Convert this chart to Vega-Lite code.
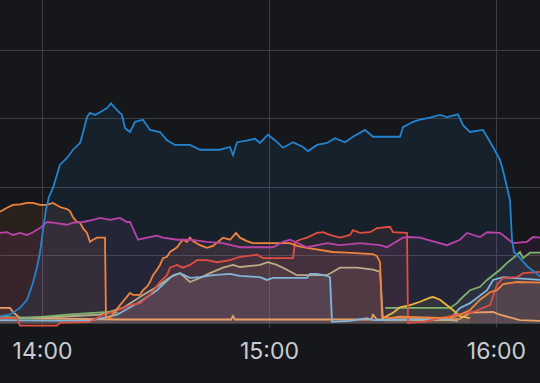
{
"$schema":"https://vega.github.io/schema/vega-lite/v6.json",
"width":540,"height":327,
"autosize":{"type":"none"},
"padding":{"left":0,"top":0,"right":0,"bottom":56},
"background":"#15171a",
"data":{"format":{"parse":{"t":"date:'%H:%M:%S'"}},"values":[
{"s":"peach","t":"13:48:54","v":22},{"s":"peach","t":"13:51:32","v":22},{"s":"peach","t":"13:52:20","v":16},{"s":"peach","t":"13:54:11","v":7},{"s":"peach","t":"14:20:00","v":5},{"s":"peach","t":"14:50:00","v":5},{"s":"peach","t":"14:50:29","v":10},{"s":"peach","t":"14:51:00","v":5},{"s":"peach","t":"15:27:00","v":5},{"s":"peach","t":"15:27:30","v":12},{"s":"peach","t":"15:28:30","v":5},{"s":"peach","t":"15:50:29","v":6},{"s":"peach","t":"15:53:08","v":15},{"s":"peach","t":"15:59:13","v":16},{"s":"peach","t":"16:01:04","v":12},{"s":"peach","t":"16:06:21","v":4},{"s":"peach","t":"16:11:38","v":3},
{"s":"tan","t":"13:48:54","v":7},{"s":"tan","t":"14:04:45","v":9},{"s":"tan","t":"14:15:20","v":12},{"s":"tan","t":"14:21:25","v":22},{"s":"tan","t":"14:26:42","v":41},{"s":"tan","t":"14:30:24","v":53},{"s":"tan","t":"14:33:50","v":67},{"s":"tan","t":"14:36:29","v":73},{"s":"tan","t":"14:39:07","v":60},{"s":"tan","t":"14:41:46","v":66},{"s":"tan","t":"14:44:24","v":73},{"s":"tan","t":"14:47:51","v":81},{"s":"tan","t":"14:50:29","v":85},{"s":"tan","t":"14:52:20","v":82},{"s":"tan","t":"14:57:37","v":85},{"s":"tan","t":"14:59:44","v":89},{"s":"tan","t":"15:02:07","v":85},{"s":"tan","t":"15:04:46","v":78},{"s":"tan","t":"15:07:24","v":70},{"s":"tan","t":"15:15:20","v":70},{"s":"tan","t":"15:16:55","v":75},{"s":"tan","t":"15:18:46","v":81},{"s":"tan","t":"15:23:16","v":81},{"s":"tan","t":"15:27:30","v":78},{"s":"tan","t":"15:29:21","v":75},{"s":"tan","t":"15:30:08","v":4},{"s":"tan","t":"15:47:51","v":4},{"s":"tan","t":"15:50:00","v":3},
{"s":"lightblue","t":"13:48:54","v":4},{"s":"lightblue","t":"14:12:41","v":3},{"s":"lightblue","t":"14:19:50","v":12},{"s":"lightblue","t":"14:25:54","v":31},{"s":"lightblue","t":"14:30:24","v":48},{"s":"lightblue","t":"14:34:38","v":70},{"s":"lightblue","t":"14:36:29","v":73},{"s":"lightblue","t":"14:39:07","v":66},{"s":"lightblue","t":"14:41:46","v":67},{"s":"lightblue","t":"14:45:12","v":70},{"s":"lightblue","t":"14:49:42","v":72},{"s":"lightblue","t":"14:52:20","v":69},{"s":"lightblue","t":"14:57:37","v":67},{"s":"lightblue","t":"14:59:28","v":63},{"s":"lightblue","t":"15:01:04","v":66},{"s":"lightblue","t":"15:10:03","v":66},{"s":"lightblue","t":"15:10:50","v":72},{"s":"lightblue","t":"15:12:42","v":72},{"s":"lightblue","t":"15:15:20","v":69},{"s":"lightblue","t":"15:16:08","v":67},{"s":"lightblue","t":"15:16:39","v":1.5},{"s":"lightblue","t":"15:21:25","v":3},{"s":"lightblue","t":"15:25:55","v":7},{"s":"lightblue","t":"15:27:30","v":4},{"s":"lightblue","t":"15:47:51","v":6},{"s":"lightblue","t":"15:50:29","v":22},{"s":"lightblue","t":"15:53:08","v":29},{"s":"lightblue","t":"15:57:38","v":48},{"s":"lightblue","t":"15:59:13","v":63},{"s":"lightblue","t":"16:01:51","v":67},{"s":"lightblue","t":"16:11:38","v":63},
{"s":"greenA","t":"13:48:54","v":9},{"s":"greenA","t":"13:56:02","v":7},{"s":"greenA","t":"14:06:37","v":12},{"s":"greenA","t":"14:14:32","v":15},{"s":"greenA","t":"14:17:58","v":16},{"s":"greenA","t":"14:20:00","v":15},
{"s":"greenB","t":"15:30:40","v":22},{"s":"greenB","t":"15:47:51","v":22},{"s":"greenB","t":"15:49:42","v":29},{"s":"greenB","t":"15:50:29","v":34},{"s":"greenB","t":"15:53:08","v":48},{"s":"greenB","t":"15:55:47","v":53},{"s":"greenB","t":"15:57:38","v":63},{"s":"greenB","t":"16:01:04","v":78},{"s":"greenB","t":"16:02:55","v":88},{"s":"greenB","t":"16:04:30","v":95},{"s":"greenB","t":"16:06:21","v":104},{"s":"greenB","t":"16:07:09","v":95},{"s":"greenB","t":"16:09:00","v":103},{"s":"greenB","t":"16:11:38","v":103},
{"s":"yellow","t":"15:30:08","v":7},{"s":"yellow","t":"15:32:47","v":15},{"s":"yellow","t":"15:34:38","v":23},{"s":"yellow","t":"15:37:16","v":26},{"s":"yellow","t":"15:39:55","v":31},{"s":"yellow","t":"15:42:34","v":37},{"s":"yellow","t":"15:43:21","v":38},{"s":"yellow","t":"15:45:12","v":34},{"s":"yellow","t":"15:47:03","v":26},{"s":"yellow","t":"15:48:38","v":19},{"s":"yellow","t":"15:50:29","v":10},{"s":"yellow","t":"15:53:08","v":7},
{"s":"red","t":"13:48:54","v":7},{"s":"red","t":"13:53:24","v":7},{"s":"red","t":"13:54:11","v":-4},{"s":"red","t":"14:03:58","v":-4},{"s":"red","t":"14:04:45","v":0},{"s":"red","t":"14:12:41","v":1.5},{"s":"red","t":"14:16:07","v":12},{"s":"red","t":"14:18:46","v":16},{"s":"red","t":"14:23:16","v":26},{"s":"red","t":"14:25:54","v":29},{"s":"red","t":"14:28:33","v":41},{"s":"red","t":"14:31:11","v":60},{"s":"red","t":"14:33:02","v":70},{"s":"red","t":"14:33:50","v":81},{"s":"red","t":"14:35:41","v":85},{"s":"red","t":"14:37:16","v":81},{"s":"red","t":"14:39:07","v":85},{"s":"red","t":"14:40:58","v":92},{"s":"red","t":"14:43:37","v":92},{"s":"red","t":"14:46:16","v":89},{"s":"red","t":"14:49:42","v":92},{"s":"red","t":"14:52:20","v":97},{"s":"red","t":"14:56:50","v":100},{"s":"red","t":"14:58:25","v":95},{"s":"red","t":"15:06:21","v":95},{"s":"red","t":"15:06:52","v":119},{"s":"red","t":"15:08:12","v":122},{"s":"red","t":"15:10:03","v":125},{"s":"red","t":"15:12:42","v":132},{"s":"red","t":"15:14:17","v":133},{"s":"red","t":"15:16:08","v":129},{"s":"red","t":"15:18:46","v":125},{"s":"red","t":"15:21:25","v":129},{"s":"red","t":"15:22:12","v":136},{"s":"red","t":"15:24:03","v":132},{"s":"red","t":"15:26:42","v":133},{"s":"red","t":"15:28:33","v":139},{"s":"red","t":"15:31:59","v":141},{"s":"red","t":"15:32:47","v":133},{"s":"red","t":"15:36:29","v":132},{"s":"red","t":"15:36:45","v":0},{"s":"red","t":"15:40:43","v":1.5},{"s":"red","t":"15:49:42","v":12},{"s":"red","t":"15:53:56","v":16},{"s":"red","t":"15:58:25","v":26},{"s":"red","t":"16:00:16","v":56},{"s":"red","t":"16:01:51","v":66},{"s":"red","t":"16:05:34","v":67},{"s":"red","t":"16:07:09","v":73},{"s":"red","t":"16:11:38","v":75},
{"s":"orange","t":"13:48:54","v":163},{"s":"orange","t":"13:50:45","v":169},{"s":"orange","t":"13:52:20","v":173},{"s":"orange","t":"13:54:11","v":174},{"s":"orange","t":"13:56:02","v":176},{"s":"orange","t":"13:57:37","v":176},{"s":"orange","t":"13:59:28","v":173},{"s":"orange","t":"14:01:19","v":173},{"s":"orange","t":"14:02:54","v":176},{"s":"orange","t":"14:04:45","v":170},{"s":"orange","t":"14:06:37","v":167},{"s":"orange","t":"14:07:24","v":164},{"s":"orange","t":"14:08:12","v":155},{"s":"orange","t":"14:09:15","v":148},{"s":"orange","t":"14:10:03","v":147},{"s":"orange","t":"14:10:50","v":139},{"s":"orange","t":"14:11:54","v":132},{"s":"orange","t":"14:12:41","v":119},{"s":"orange","t":"14:13:29","v":122},{"s":"orange","t":"14:14:32","v":125},{"s":"orange","t":"14:16:39","v":125},{"s":"orange","t":"14:16:55","v":9},{"s":"orange","t":"14:17:58","v":7},{"s":"orange","t":"14:20:37","v":26},{"s":"orange","t":"14:23:16","v":44},{"s":"orange","t":"14:24:03","v":41},{"s":"orange","t":"14:25:54","v":41},{"s":"orange","t":"14:26:42","v":48},{"s":"orange","t":"14:27:45","v":53},{"s":"orange","t":"14:28:33","v":60},{"s":"orange","t":"14:29:20","v":70},{"s":"orange","t":"14:30:24","v":78},{"s":"orange","t":"14:31:11","v":85},{"s":"orange","t":"14:31:59","v":95},{"s":"orange","t":"14:33:02","v":97},{"s":"orange","t":"14:33:50","v":104},{"s":"orange","t":"14:34:38","v":107},{"s":"orange","t":"14:35:41","v":111},{"s":"orange","t":"14:36:29","v":117},{"s":"orange","t":"14:37:16","v":122},{"s":"orange","t":"14:38:20","v":119},{"s":"orange","t":"14:39:07","v":125},{"s":"orange","t":"14:39:55","v":120},{"s":"orange","t":"14:41:46","v":114},{"s":"orange","t":"14:43:37","v":110},{"s":"orange","t":"14:45:12","v":113},{"s":"orange","t":"14:47:51","v":125},{"s":"orange","t":"14:49:42","v":122},{"s":"orange","t":"14:51:17","v":132},{"s":"orange","t":"14:52:20","v":125},{"s":"orange","t":"14:54:11","v":120},{"s":"orange","t":"14:55:46","v":117},{"s":"orange","t":"15:01:04","v":117},{"s":"orange","t":"15:05:33","v":117},{"s":"orange","t":"15:07:24","v":113},{"s":"orange","t":"15:10:03","v":110},{"s":"orange","t":"15:16:55","v":104},{"s":"orange","t":"15:20:37","v":103},{"s":"orange","t":"15:27:30","v":101},{"s":"orange","t":"15:28:33","v":98},{"s":"orange","t":"15:29:21","v":89},{"s":"orange","t":"15:29:52","v":9},{"s":"orange","t":"15:31:59","v":7},{"s":"orange","t":"15:34:38","v":9},{"s":"orange","t":"15:47:51","v":7},{"s":"orange","t":"15:50:29","v":12},{"s":"orange","t":"15:53:08","v":19},{"s":"orange","t":"15:55:47","v":34},{"s":"orange","t":"15:58:25","v":45},{"s":"orange","t":"16:00:16","v":48},{"s":"orange","t":"16:01:51","v":57},{"s":"orange","t":"16:05:34","v":60},{"s":"orange","t":"16:11:38","v":59},
{"s":"magenta","t":"13:48:54","v":132},{"s":"magenta","t":"13:50:45","v":133},{"s":"magenta","t":"13:52:20","v":129},{"s":"magenta","t":"13:54:11","v":132},{"s":"magenta","t":"13:56:02","v":129},{"s":"magenta","t":"13:57:37","v":133},{"s":"magenta","t":"13:59:28","v":139},{"s":"magenta","t":"14:01:19","v":148},{"s":"magenta","t":"14:02:54","v":147},{"s":"magenta","t":"14:06:37","v":144},{"s":"magenta","t":"14:08:12","v":147},{"s":"magenta","t":"14:10:50","v":148},{"s":"magenta","t":"14:13:29","v":151},{"s":"magenta","t":"14:15:20","v":154},{"s":"magenta","t":"14:17:58","v":151},{"s":"magenta","t":"14:20:37","v":154},{"s":"magenta","t":"14:22:28","v":148},{"s":"magenta","t":"14:23:16","v":148},{"s":"magenta","t":"14:24:35","v":132},{"s":"magenta","t":"14:25:23","v":122},{"s":"magenta","t":"14:27:45","v":125},{"s":"magenta","t":"14:30:24","v":128},{"s":"magenta","t":"14:31:59","v":125},{"s":"magenta","t":"14:35:41","v":122},{"s":"magenta","t":"14:39:07","v":122},{"s":"magenta","t":"14:43:37","v":119},{"s":"magenta","t":"14:47:51","v":117},{"s":"magenta","t":"14:52:20","v":111},{"s":"magenta","t":"15:01:04","v":111},{"s":"magenta","t":"15:03:42","v":119},{"s":"magenta","t":"15:05:33","v":122},{"s":"magenta","t":"15:10:03","v":111},{"s":"magenta","t":"15:15:20","v":117},{"s":"magenta","t":"15:18:46","v":114},{"s":"magenta","t":"15:22:12","v":116},{"s":"magenta","t":"15:24:03","v":117},{"s":"magenta","t":"15:29:21","v":114},{"s":"magenta","t":"15:31:12","v":111},{"s":"magenta","t":"15:35:25","v":125},{"s":"magenta","t":"15:36:45","v":126},{"s":"magenta","t":"15:39:55","v":125},{"s":"magenta","t":"15:41:46","v":122},{"s":"magenta","t":"15:47:03","v":114},{"s":"magenta","t":"15:50:29","v":122},{"s":"magenta","t":"15:52:21","v":132},{"s":"magenta","t":"15:55:47","v":126},{"s":"magenta","t":"15:57:38","v":133},{"s":"magenta","t":"16:01:04","v":132},{"s":"magenta","t":"16:04:30","v":117},{"s":"magenta","t":"16:08:12","v":119},{"s":"magenta","t":"16:09:47","v":126},{"s":"magenta","t":"16:11:38","v":125},
{"s":"blue","t":"13:48:54","v":10},{"s":"blue","t":"13:51:32","v":12},{"s":"blue","t":"13:54:11","v":22},{"s":"blue","t":"13:56:02","v":34},{"s":"blue","t":"13:57:37","v":59},{"s":"blue","t":"13:58:41","v":82},{"s":"blue","t":"13:59:28","v":103},{"s":"blue","t":"14:00:16","v":136},{"s":"blue","t":"14:01:03","v":166},{"s":"blue","t":"14:01:51","v":185},{"s":"blue","t":"14:02:54","v":198},{"s":"blue","t":"14:04:45","v":232},{"s":"blue","t":"14:06:37","v":242},{"s":"blue","t":"14:08:12","v":254},{"s":"blue","t":"14:10:03","v":264},{"s":"blue","t":"14:10:50","v":279},{"s":"blue","t":"14:11:54","v":302},{"s":"blue","t":"14:12:41","v":308},{"s":"blue","t":"14:14:01","v":305},{"s":"blue","t":"14:15:20","v":309},{"s":"blue","t":"14:17:11","v":315},{"s":"blue","t":"14:18:14","v":322},{"s":"blue","t":"14:19:50","v":312},{"s":"blue","t":"14:21:09","v":305},{"s":"blue","t":"14:21:56","v":286},{"s":"blue","t":"14:23:16","v":280},{"s":"blue","t":"14:24:35","v":295},{"s":"blue","t":"14:26:42","v":298},{"s":"blue","t":"14:28:33","v":283},{"s":"blue","t":"14:31:11","v":280},{"s":"blue","t":"14:33:02","v":268},{"s":"blue","t":"14:35:09","v":261},{"s":"blue","t":"14:39:07","v":261},{"s":"blue","t":"14:41:46","v":254},{"s":"blue","t":"14:47:03","v":254},{"s":"blue","t":"14:49:42","v":258},{"s":"blue","t":"14:50:29","v":246},{"s":"blue","t":"14:51:33","v":265},{"s":"blue","t":"14:53:40","v":267},{"s":"blue","t":"14:56:18","v":270},{"s":"blue","t":"14:57:37","v":264},{"s":"blue","t":"14:59:44","v":276},{"s":"blue","t":"15:01:35","v":268},{"s":"blue","t":"15:03:42","v":257},{"s":"blue","t":"15:06:21","v":265},{"s":"blue","t":"15:08:59","v":258},{"s":"blue","t":"15:10:19","v":252},{"s":"blue","t":"15:12:42","v":261},{"s":"blue","t":"15:15:20","v":264},{"s":"blue","t":"15:17:27","v":271},{"s":"blue","t":"15:20:06","v":265},{"s":"blue","t":"15:22:12","v":273},{"s":"blue","t":"15:25:23","v":283},{"s":"blue","t":"15:27:30","v":273},{"s":"blue","t":"15:34:38","v":273},{"s":"blue","t":"15:35:25","v":287},{"s":"blue","t":"15:38:04","v":295},{"s":"blue","t":"15:39:55","v":298},{"s":"blue","t":"15:42:34","v":301},{"s":"blue","t":"15:45:12","v":305},{"s":"blue","t":"15:47:03","v":302},{"s":"blue","t":"15:49:58","v":306},{"s":"blue","t":"15:51:17","v":290},{"s":"blue","t":"15:53:08","v":280},{"s":"blue","t":"15:56:34","v":283},{"s":"blue","t":"15:57:38","v":273},{"s":"blue","t":"15:59:13","v":258},{"s":"blue","t":"16:01:04","v":239},{"s":"blue","t":"16:01:51","v":224},{"s":"blue","t":"16:02:55","v":199},{"s":"blue","t":"16:03:42","v":180},{"s":"blue","t":"16:04:14","v":122},{"s":"blue","t":"16:04:46","v":104},{"s":"blue","t":"16:06:21","v":95},{"s":"blue","t":"16:08:28","v":82},{"s":"blue","t":"16:10:35","v":73},{"s":"blue","t":"16:11:38","v":68}
]},
"encoding":{
"x":{"field":"t","type":"temporal","scale":{"nice":false},
"axis":{"title":null,"format":"%H:%M","tickCount":3,"grid":true,"gridColor":"#3d4045","domain":false,"ticks":false,"labelPadding":13,"labelFontSize":23,"labelColor":"#c9ccd2","labelFont":"Inter","labelFlush":false}},
"y":{"field":"v","type":"quantitative","stack":null,"scale":{"domain":[-6,473.6],"nice":false,"zero":false},"axis":{"title":null,"labels":false,"ticks":false,"domain":false,"grid":true,"gridColor":"#3d4045","values":[0,100,200,300,400]}},
"color":{"field":"s","type":"nominal","legend":null,"scale":{"domain":["peach","tan","lightblue","greenA","greenB","yellow","red","orange","magenta","blue"],"range":["#e9a066","#b9ac86","#82b5d8","#7eb26d","#7eb26d","#eab839","#e24d42","#ef843c","#ba43a9","#2383cf"]}}
},
"layer":[
{"mark":{"type":"area","fillOpacity":0.1,"clip":true}},
{"mark":{"type":"line","strokeWidth":1.8,"clip":true}}
],
"config":{"view":{"stroke":null}}
}
